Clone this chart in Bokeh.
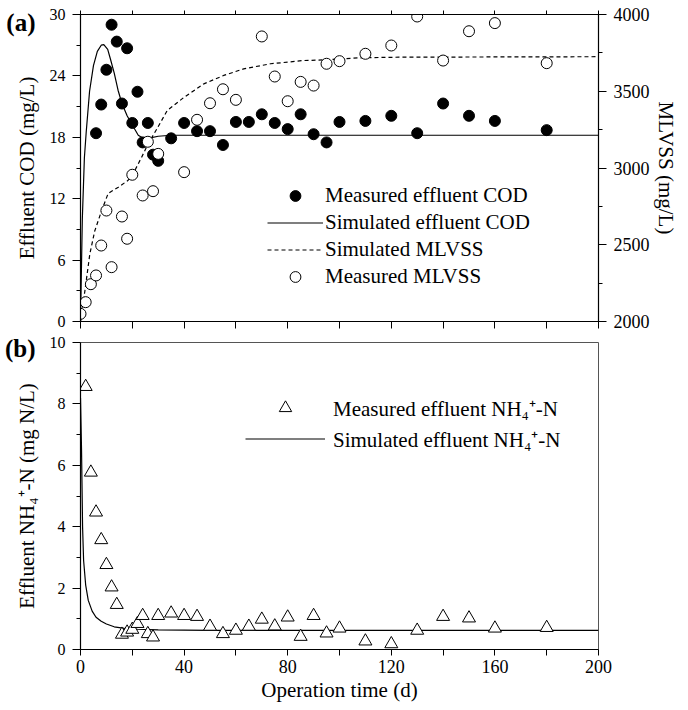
from bokeh.plotting import figure
from bokeh.models import LinearAxis, Range1d, FixedTicker, Legend, LegendItem
from bokeh.layouts import column
from bokeh.embed import file_html
from bokeh.resources import INLINE

# ---------------- data ----------------
cod_days = [6, 8, 10, 12, 14, 16, 18, 20, 22, 24, 26, 28, 30, 35, 40, 45, 50, 55, 60, 65,
            70, 75, 80, 85, 90, 95, 100, 110, 120, 130, 140, 150, 160, 180]
cod_meas = [18.4, 21.2, 24.6, 29.0, 27.35, 21.3, 26.7, 19.4, 22.45, 17.5, 19.4, 16.3, 15.7, 17.9,
            19.4, 18.6, 18.6, 17.25, 19.5, 19.5, 20.25, 19.4, 18.8, 20.25, 18.3, 17.5, 19.5,
            19.6, 20.1, 18.4, 21.3, 20.1, 19.6, 18.7]

mlvss_days = [0, 2, 4, 6, 8, 10, 12, 16, 18, 20, 24, 26, 28, 30, 40, 45, 50, 55, 60, 70, 75,
              80, 85, 90, 95, 100, 110, 120, 130, 140, 150, 160, 180]
mlvss_meas = [2050, 2126, 2243, 2300, 2495, 2723, 2354, 2684, 2539, 2956, 2821, 3171, 2849,
              3092, 2973, 3314, 3422, 3513, 3444, 3857, 3596, 3435, 3561, 3537, 3679, 3696,
              3744, 3798, 3987, 3700, 3891, 3944, 3683]

sim_cod_days = [0, 0.7, 1.5, 2.2, 3.5, 5, 6.5, 8, 9, 10.5, 11.5, 13, 14.5, 16, 18, 20, 22.3,
                24.5, 27, 30, 35, 60, 100, 150, 200]
sim_cod = [0, 10, 16, 18.5, 22.5, 25, 26.4, 27, 27.05, 26.6, 25.7, 24.3, 22.6, 21.3, 20.1,
           19.2, 18.2, 17.85, 17.95, 18.1, 18.2, 18.2, 18.2, 18.2, 18.2]

sim_mlvss_days = [0, 1.7, 3.6, 5.5, 8.1, 10.7, 14.6, 18.4, 21, 23.6, 26.1, 29.5, 33.5, 40,
                  47.6, 55.3, 63, 73.4, 86, 95, 108, 123, 200]
sim_mlvss = [2000, 2200, 2440, 2590, 2720, 2835, 2875, 2920, 2985, 3070, 3157, 3255, 3375,
             3461, 3548, 3603, 3646, 3679, 3700, 3705, 3718, 3722, 3725]

nh_days = [2, 4, 6, 8, 10, 12, 14, 16, 18, 20, 22, 24, 26, 28, 30, 35, 40, 45, 50, 55, 60, 65,
           70, 75, 80, 85, 90, 95, 100, 110, 120, 130, 140, 150, 160, 180]
nh_meas = [8.56, 5.77, 4.47, 3.57, 2.76, 2.03, 1.46, 0.49, 0.56, 0.65, 0.84, 1.1, 0.51, 0.40,
           1.1, 1.18, 1.1, 1.07, 0.75, 0.51, 0.62, 0.75, 0.98, 0.76, 1.05, 0.42, 1.1, 0.53,
           0.69, 0.27, 0.18, 0.62, 1.07, 1.02, 0.69, 0.71]

sim_nh_days = [0, 0.4, 0.8, 1.2, 2, 3, 4.5, 6, 8, 10, 13, 17, 22, 30, 50, 100, 200]
sim_nh = [8.2, 6.5, 4.0, 2.9, 2.1, 1.6, 1.25, 1.05, 0.92, 0.83, 0.74, 0.69, 0.66, 0.64, 0.62,
          0.62, 0.62]

x_major = [0, 40, 80, 120, 160, 200]
x_minor = [20, 60, 100, 140, 180]
cod_ticks = [0, 6, 12, 18, 24, 30]
cod_minor = [3, 9, 15, 21, 27]
mlvss_ticks = [2000, 2500, 3000, 3500, 4000]
mlvss_minor = [2250, 2750, 3250, 3750]
nh_ticks = [0, 2, 4, 6, 8, 10]
nh_minor = [1, 3, 5, 7, 9]

panel_a_tag, panel_a_y = "(a)", 29.2
panel_b_tag, panel_b_y = "(b)", 9.8

FONT = "Liberation Serif"


def style_axis(ax, tick_size="16px", major_out=8, minor_out=4):
    ax.axis_line_color = "black"
    ax.axis_line_width = 1.2
    ax.major_tick_line_color = "black"
    ax.minor_tick_line_color = "black"
    ax.major_tick_in = 0
    ax.major_tick_out = major_out
    ax.minor_tick_in = 0
    ax.minor_tick_out = minor_out
    ax.major_label_text_font = FONT
    ax.major_label_text_font_size = tick_size
    ax.major_label_text_color = "black"
    ax.axis_label_text_font = FONT
    ax.axis_label_text_font_size = "21px"
    ax.axis_label_text_font_style = "normal"
    ax.axis_label_text_color = "black"


def tag_axis(tag, y):
    # an outer left axis carrying only the bold panel tag; a negative standoff pulls the
    # label back over the main axis so that the left border keeps its width
    ax = LinearAxis(ticker=FixedTicker(ticks=[y], minor_ticks=[]),
                    major_label_overrides={y: tag})
    ax.axis_line_color = None
    ax.major_tick_line_color = None
    ax.minor_tick_line_color = None
    ax.major_tick_in = 0
    ax.major_tick_out = 0
    ax.minor_tick_in = 0
    ax.minor_tick_out = 0
    ax.major_label_standoff = -24
    ax.major_label_text_font = FONT
    ax.major_label_text_font_size = "25px"
    ax.major_label_text_font_style = "bold"
    ax.major_label_text_color = "black"
    return ax


def style_legend(lg, glyph_w, row_h, standoff):
    lg.border_line_alpha = 0
    lg.background_fill_alpha = 0
    lg.padding = 0
    lg.margin = 0
    lg.spacing = 0
    lg.glyph_width = glyph_w
    lg.glyph_height = row_h
    lg.label_height = row_h
    lg.label_standoff = standoff
    lg.label_text_font = FONT
    lg.label_text_font_size = "21px"
    lg.label_text_color = "black"


# ---------------- panel (a) ----------------
p1 = figure(width=688, height=332, x_range=Range1d(0, 200), y_range=Range1d(0, 30),
            output_backend="svg", toolbar_location=None,
            min_border_left=80, min_border_right=90, min_border_top=14, min_border_bottom=11)
p1.extra_y_ranges = {"mlvss": Range1d(2000, 4000)}
p1.grid.visible = False
p1.outline_line_color = "black"
p1.outline_line_width = 1

p1.xaxis.ticker = FixedTicker(ticks=[], minor_ticks=x_major + x_minor)
style_axis(p1.xaxis[0], major_out=7, minor_out=7)

p1.yaxis.ticker = FixedTicker(ticks=cod_ticks, minor_ticks=cod_minor)
style_axis(p1.yaxis[0])
p1.yaxis.axis_label = "Effluent COD (mg/L)"
p1.yaxis.major_label_standoff = 7
p1.yaxis.axis_label_standoff = 8

rax = LinearAxis(y_range_name="mlvss", axis_label="MLVSS (mg/L)",
                 ticker=FixedTicker(ticks=mlvss_ticks, minor_ticks=mlvss_minor))
style_axis(rax, tick_size="18px")
rax.major_label_standoff = 7
rax.axis_label_standoff = 1
p1.add_layout(rax, "right")

tax = LinearAxis(ticker=FixedTicker(ticks=[], minor_ticks=x_major + x_minor))
style_axis(tax, major_out=4, minor_out=4)
p1.add_layout(tax, "above")

p1.add_layout(tag_axis(panel_a_tag, panel_a_y), "left")

r_sim_cod = p1.line(sim_cod_days, sim_cod, line_color="black", line_width=1.2)
r_sim_mlvss = p1.line(sim_mlvss_days, sim_mlvss, y_range_name="mlvss", line_color="black",
                      line_width=1.2, line_dash="4 3")
r_cod = p1.scatter(cod_days, cod_meas, marker="circle", size=11, fill_color="black",
                   line_color="black")
r_mlvss = p1.scatter(mlvss_days, mlvss_meas, y_range_name="mlvss", marker="circle", size=11,
                     fill_color="white", line_color="black", line_width=1)

leg1 = Legend(items=[
    LegendItem(label="Measured effluent COD", renderers=[r_cod]),
    LegendItem(label="Simulated effluent COD", renderers=[r_sim_cod]),
    LegendItem(label="Simulated MLVSS", renderers=[r_sim_mlvss]),
    LegendItem(label="Measured MLVSS", renderers=[r_mlvss]),
], location=(187, 31))
style_legend(leg1, 56, 27, 2)
p1.add_layout(leg1)

# ---------------- panel (b) ----------------
p2 = figure(width=688, height=378, x_range=Range1d(0, 200), y_range=Range1d(0, 10),
            output_backend="svg", toolbar_location=None,
            min_border_left=80, min_border_right=90, min_border_top=10, min_border_bottom=61)
p2.grid.visible = False
p2.outline_line_color = "#555555"
p2.outline_line_width = 1

p2.xaxis.ticker = FixedTicker(ticks=x_major, minor_ticks=x_minor)
style_axis(p2.xaxis[0], tick_size="18px", major_out=6, minor_out=6)
p2.xaxis.axis_label = "Operation time (d)"
p2.xaxis.major_label_standoff = 4
p2.xaxis.axis_label_standoff = 2

p2.yaxis.ticker = FixedTicker(ticks=nh_ticks, minor_ticks=nh_minor)
style_axis(p2.yaxis[0])
p2.yaxis.axis_label = "Effluent NH\u2084\u207a-N (mg N/L)"
p2.yaxis.major_label_standoff = 7
p2.yaxis.axis_label_standoff = 8

p2.add_layout(tag_axis(panel_b_tag, panel_b_y), "left")

r_sim_nh = p2.line(sim_nh_days, sim_nh, line_color="black", line_width=1.2)
r_nh = p2.scatter(nh_days, nh_meas, marker="triangle", size=13, fill_color="white",
                  line_color="black", line_width=1)

leg2 = Legend(items=[
    LegendItem(label="Measured effluent NH\u2084\u207a-N", renderers=[r_nh]),
    LegendItem(label="Simulated effluent NH\u2084\u207a-N", renderers=[r_sim_nh]),
], location=(165, 195))
style_legend(leg2, 80, 31, 8)
p2.add_layout(leg2)

layout = column(p1, p2, spacing=0)
open("out.html", "w").write(file_html(layout, INLINE))
